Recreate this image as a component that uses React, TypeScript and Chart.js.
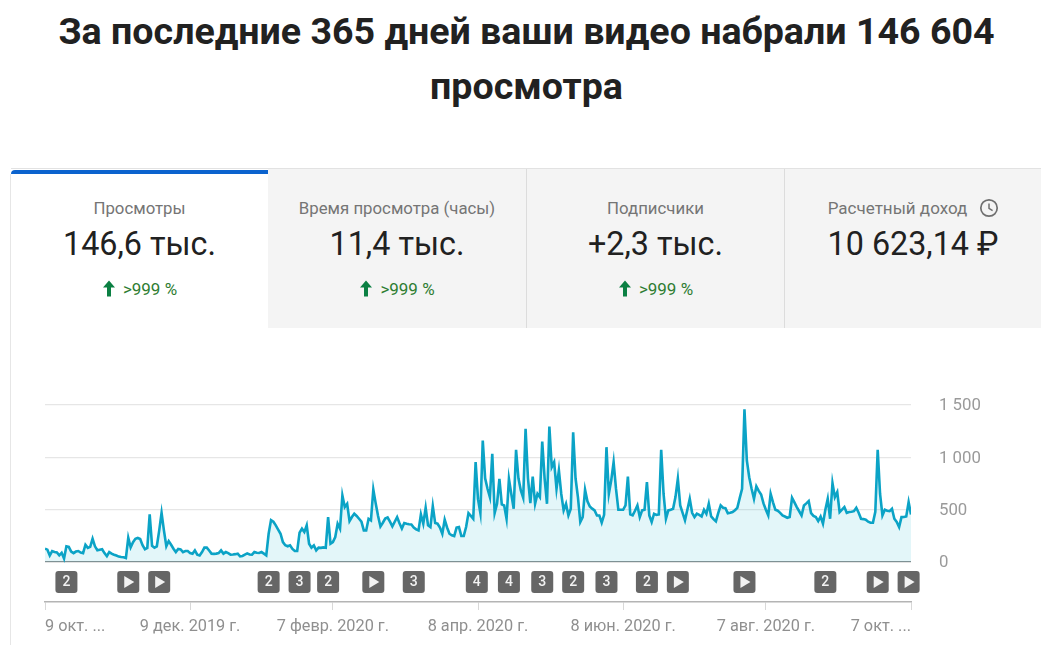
import React, { useEffect, useRef } from "react";
import { Chart, registerables } from "chart.js";

Chart.register(...registerables);

const titleLines = ["За последние 365 дней ваши видео набрали 146 604", "просмотра"];
const tabLabels = ["Просмотры", "Время просмотра (часы)", "Подписчики", "Расчетный доход"];
const tabValues = ["146,6 тыс.", "11,4 тыс.", "+2,3 тыс.", "10 623,14 ₽"];
const tabChanges = [">999 %", ">999 %", ">999 %", ""];

const viewsByDay = [
  127,118,62,105,96,92,64,88,34,150,145,100,85,100,105,90,85,165,135,145,
  222,150,112,118,122,85,55,95,80,70,62,52,48,45,38,232,140,190,222,230,
  220,160,122,135,455,155,137,150,300,470,300,150,200,165,127,95,125,120,95,105,
  105,85,78,111,70,62,95,137,137,110,80,78,80,85,111,80,95,85,70,72,
  75,80,54,58,70,82,72,70,95,88,86,95,80,64,270,400,385,350,310,270,
  190,160,150,159,125,105,105,280,318,286,350,175,137,159,111,137,135,140,137,430,
  175,191,238,366,318,636,525,556,391,430,461,440,413,385,302,302,413,398,693,560,
  440,340,375,415,425,385,340,385,429,370,320,372,365,360,359,330,312,302,455,366,
  518,350,334,534,372,366,330,270,404,330,270,255,248,328,334,248,248,334,467,440,
  413,954,600,467,1160,800,700,620,1033,467,556,795,550,540,413,795,650,509,1072,800,
  684,614,1272,800,563,817,556,652,620,1151,800,556,1294,906,954,700,875,650,493,556,
  445,509,1240,800,620,382,429,690,580,530,510,493,445,445,375,450,1097,652,780,954,
  700,499,499,499,540,817,455,445,490,540,429,493,499,763,445,382,461,450,455,1072,
  650,413,493,500,509,620,795,540,470,398,500,604,470,429,461,450,435,499,461,556,
  435,410,388,470,540,518,515,465,470,477,495,518,610,700,1460,970,810,700,604,722,
  680,645,560,500,445,652,570,499,490,470,445,435,423,430,614,570,525,485,445,540,
  560,582,467,440,430,391,435,366,500,604,413,754,620,668,477,500,525,470,478,480,
  486,518,470,413,410,404,385,375,375,480,1072,650,445,499,490,486,509,413,382,334,
  429,430,435,572,455,
];

const xTickDays = [0, 61, 121, 182, 243, 303, 364];
const xTickLabels = ["9 окт. ...", "9 дек. 2019 г.", "7 февр. 2020 г.", "8 апр. 2020 г.", "8 июн. 2020 г.", "7 авг. 2020 г.", "7 окт. ..."];
const yTickValues = [0, 500, 1000, 1500];
const yTickLabels = ["0", "500", "1 000", "1 500"];

const badgeDays = [9, 35, 48, 94, 107, 119, 138, 155, 181.5, 195, 209, 222, 236, 253, 266, 294, 328, 350, 363];
const badgeLabels = ["2", "play", "play", "2", "3", "2", "play", "3", "4", "4", "3", "2", "3", "2", "play", "play", "2", "play", "play"];

const FONT = "Roboto, sans-serif";

const badgePlugin = {
  id: "badges",
  beforeDraw(chart: any) {
    const x = chart.scales.x;
    const items = x.getLabelItems();
    if (items.length) {
      items[0].options.textAlign = "left";
      items[items.length - 1].options.textAlign = "right";
    }
    chart.scales.y.getLabelItems().forEach((it: any) => {
      it.options.translation = [it.options.translation[0], it.options.translation[1] + 1];
    });
  },
  afterDraw(chart: any) {
    const { ctx, scales } = chart;
    const py = scales.y.getPixelForValue(-191);
    const s = 22;
    ctx.save();
    badgeDays.forEach((day, i) => {
      const px = scales.x.getPixelForValue(day);
      ctx.fillStyle = "#666666";
      ctx.beginPath();
      ctx.roundRect(px - s / 2, py - s / 2, s, s, 3);
      ctx.fill();
      ctx.fillStyle = "#f2f2f2";
      if (badgeLabels[i] === "play") {
        ctx.beginPath();
        ctx.moveTo(px - 4, py - 6);
        ctx.lineTo(px + 6, py);
        ctx.lineTo(px - 4, py + 6);
        ctx.closePath();
        ctx.fill();
      } else {
        ctx.font = `500 14px ${FONT}`;
        ctx.textAlign = "center";
        ctx.textBaseline = "middle";
        ctx.fillText(badgeLabels[i], px, py + 0.5);
      }
    });
    ctx.restore();
  },
};

const Arrow = () => (
  <svg width="14" height="17" viewBox="0 0 14 17" style={{ marginRight: 7, verticalAlign: -2 }}>
    <path d="M7 0.5 L13 7.5 L9 7.5 L9 16.5 L5 16.5 L5 7.5 L1 7.5 Z" fill="#0b8043" />
  </svg>
);

const Clock = () => (
  <svg width="20" height="20" viewBox="0 0 20 20" style={{ position: "absolute", left: 194, top: 29 }}>
    <circle cx="10" cy="10" r="8.2" fill="none" stroke="#6f6f6f" strokeWidth="1.7" />
    <path d="M10 5.5 V10.3 L13.6 12.6" fill="none" stroke="#6f6f6f" strokeWidth="1.5" />
  </svg>
);

const tabLefts = [11, 268, 526, 784];
const tabWidths = [257, 258, 258, 257];

export default function App() {
  const ref = useRef<HTMLCanvasElement | null>(null);

  useEffect(() => {
    if (!ref.current) return;
    const chart = new Chart(ref.current, {
      type: "line",
      data: {
        datasets: [
          {
            data: viewsByDay.map((y, x) => ({ x, y })),
            borderColor: "#0ba3c6",
            borderWidth: 2.6,
            backgroundColor: "rgba(0,170,200,0.11)",
            fill: { value: 0 },
            pointRadius: 0,
            tension: 0,
          },
        ],
      },
      options: {
        animation: false,
        responsive: false,
        maintainAspectRatio: false,
        layout: { padding: { left: 45, top: 10, right: 0, bottom: 0 } },
        plugins: { legend: { display: false }, tooltip: { enabled: false }, title: { display: false } },
        scales: {
          x: {
            type: "linear",
            min: 0,
            max: 364,
            afterBuildTicks: (s: any) => {
              s.ticks = xTickDays.map((value) => ({ value }));
            },
            afterFit: (s: any) => {
              s.height = 43;
            },
            grid: { drawOnChartArea: false, drawTicks: true, tickLength: 8, tickColor: "#d8d8d8", tickWidth: 1 },
            border: { color: "#b4b4b4", width: 1.5 },
            ticks: {
              autoSkip: false,
              maxRotation: 0,
              minRotation: 0,
              padding: 7,
              color: "#8f8f8f",
              font: { family: FONT, size: 16.3 },
              callback: (_v: any, i: number) => xTickLabels[i],
            },
          },
          y: {
            type: "linear",
            position: "right",
            min: -382,
            max: 1500,
            afterBuildTicks: (s: any) => {
              s.ticks = yTickValues.map((value) => ({ value }));
            },
            afterFit: (s: any) => {
              s.width = 130;
              s.paddingTop = 0;
              s.paddingBottom = 0;
            },
            grid: {
              drawTicks: false,
              lineWidth: 1.2,
              color: (c: any) => (c.tick && c.tick.value === 0 ? "#8e8e8e" : "#e6e6e6"),
            },
            border: { display: false },
            ticks: {
              padding: 28,
              color: "#9a9a9a",
              font: { family: FONT, size: 16.8 },
              callback: (_v: any, i: number) => yTickLabels[i],
            },
          },
        },
      },
      plugins: [badgePlugin],
    } as any);
    return () => chart.destroy();
  }, []);

  return (
    <div style={{ position: "absolute", left: 0, top: 0, width: 1041, height: 645, overflow: "hidden", background: "#fff", fontFamily: FONT }}>
      {titleLines.map((t, i) => (
        <div
          key={i}
          style={{
            position: "absolute",
            left: 0,
            width: 1053,
            top: 4 + i * 55,
            height: 55,
            lineHeight: "55px",
            textAlign: "center",
            fontSize: 37.6,
            fontWeight: 700,
            color: "#212121",
            whiteSpace: "nowrap",
          }}
        >
          {t}
        </div>
      ))}
      <div style={{ position: "absolute", left: 11, right: 0, top: 168, height: 1, background: "#e2e2e2" }} />
      <div style={{ position: "absolute", left: 10, top: 174, width: 1, height: 471, background: "#e6e6e6" }} />
      {tabLabels.map((label, i) => (
        <div
          key={i}
          style={{
            position: "absolute",
            left: tabLefts[i],
            top: 169,
            width: tabWidths[i],
            height: 159,
            background: i === 0 ? "#ffffff" : "#f4f4f4",
            borderLeft: i > 1 ? "1.5px solid #dcdcdc" : "none",
            boxSizing: "border-box",
            textAlign: "center",
          }}
        >
          {i === 0 && (
            <div style={{ position: "absolute", left: 0, right: 0, top: 1, height: 4, background: "#0b63ce", borderTopLeftRadius: 4 }} />
          )}
          <div
            style={{
              position: "absolute",
              left: i === 3 ? -31 : 0,
              right: 0,
              top: 29,
              lineHeight: "20px",
              fontSize: i === 3 ? 17 : 16.8,
              color: "#757575",
              whiteSpace: "nowrap",
            }}
          >
            {label}
          </div>
          {i === 3 && <Clock />}
          <div style={{ position: "absolute", left: 0, right: 0, top: 54, lineHeight: "42px", fontSize: 32.3, color: "#212121", whiteSpace: "nowrap" }}>
            {tabValues[i]}
          </div>
          {tabChanges[i] && (
            <div style={{ position: "absolute", left: 0, right: 0, top: 110, lineHeight: "20px", fontSize: 17, color: "#2e7d32", whiteSpace: "nowrap" }}>
              <Arrow />
              {tabChanges[i]}
            </div>
          )}
        </div>
      ))}
      <canvas ref={ref} width={1041} height={250} style={{ position: "absolute", left: 0, top: 395, display: "block" }} />
    </div>
  );
}
